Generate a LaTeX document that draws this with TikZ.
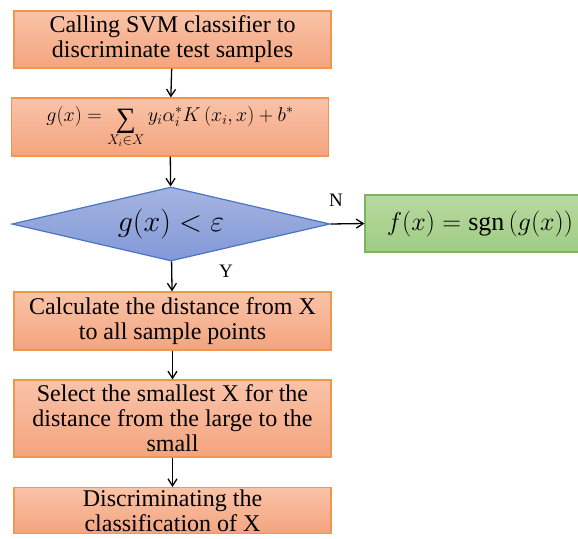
\documentclass[tikz,border=0pt]{standalone}
\usepackage{fix-cm}
\usepackage{fontspec}
\setmainfont{Liberation Serif}
\usetikzlibrary{shapes.geometric,arrows.meta}
\definecolor{obord}{HTML}{F0964F}
\definecolor{otop}{HTML}{F9C3A8}
\definecolor{obot}{HTML}{F4A47E}
\definecolor{btop}{HTML}{A5B5E0}
\definecolor{bbot}{HTML}{8298D8}
\definecolor{bbord}{HTML}{4A74C6}
\definecolor{gtop}{HTML}{B8D9A0}
\definecolor{gbot}{HTML}{A0CC84}
\definecolor{gbord}{HTML}{7DB35A}
\tikzset{
  obox/.style={draw=obord, line width=1.2pt, top color=otop, bottom color=obot,
    minimum width=317pt, align=center, font=\fontsize{24}{25}\selectfont, inner sep=0pt},
  conn/.style={-{Straight Barb[length=7pt,width=9pt]}, line width=1.3pt},
  lbl/.style={font=\fontsize{19}{21}\selectfont}
}
\newcommand{\bigsumsym}{\mathop{\mbox{\fontsize{28}{28}\selectfont\raisebox{-0.2em}{∑}}}\limits}
\begin{document}
\begin{tikzpicture}[x=1pt,y=-1pt]
\useasboundingbox (0,0) rectangle (578,538);
\clip (0,0) rectangle (578,538);
\node[obox, minimum height=57pt] (b1) at (172.5,39.5) {Calling SVM classifier to\\discriminate test samples};
\node[obox, minimum height=58pt, font=\fontsize{20}{22}\selectfont] (b2) at (170,127) {$\displaystyle g\!\left(x\right)= \bigsumsym_{\raisebox{-3pt}{$\scriptstyle X_i\in X$}} y_i\alpha_i^{*}K\left(x_i,x\right)+b^{*}$};
\node[draw=bbord, line width=1.2pt, top color=btop, bottom color=bbot, diamond, aspect=4.35,
  minimum width=318pt, minimum height=74pt, inner sep=0pt, font=\fontsize{30}{34}\selectfont] (d) at (171,224)
  {$g\!\left(x\right)< \varepsilon$};
\node[draw=gbord, line width=1.2pt, top color=gtop, bottom color=gbot, minimum width=230pt,
  minimum height=57pt, inner sep=0pt, font=\fontsize{26}{30}\selectfont] (g) at (480,223.5)
  {$f\!\left(x\right)=\mbox{sgn}\left(g\!\left(x\right)\right)$};
\node[obox, minimum height=58pt] (b3) at (172.5,321) {Calculate the distance from X\\to all sample points};
\node[obox, minimum height=77pt] (b4) at (172.5,418.5) {Select the smallest X for the\\distance from the large to the\\small};
\node[obox, minimum height=46pt, anchor=north] (b5) at (172.5,487) {Discriminating the\\classification of X};
\draw[conn] (b1) -- (b2);
\draw[conn] (b2) -- (d);
\draw[conn] (d.east) -- (g.west);
\draw[conn] (d) -- (b3);
\draw[conn] (b3) -- (b4);
\draw[conn] (b4) -- (b5);
\node[lbl] (nl) at (336,200) {N};
\node[lbl] (yl) at (226,271) {Y};
\end{tikzpicture}
\end{document}
